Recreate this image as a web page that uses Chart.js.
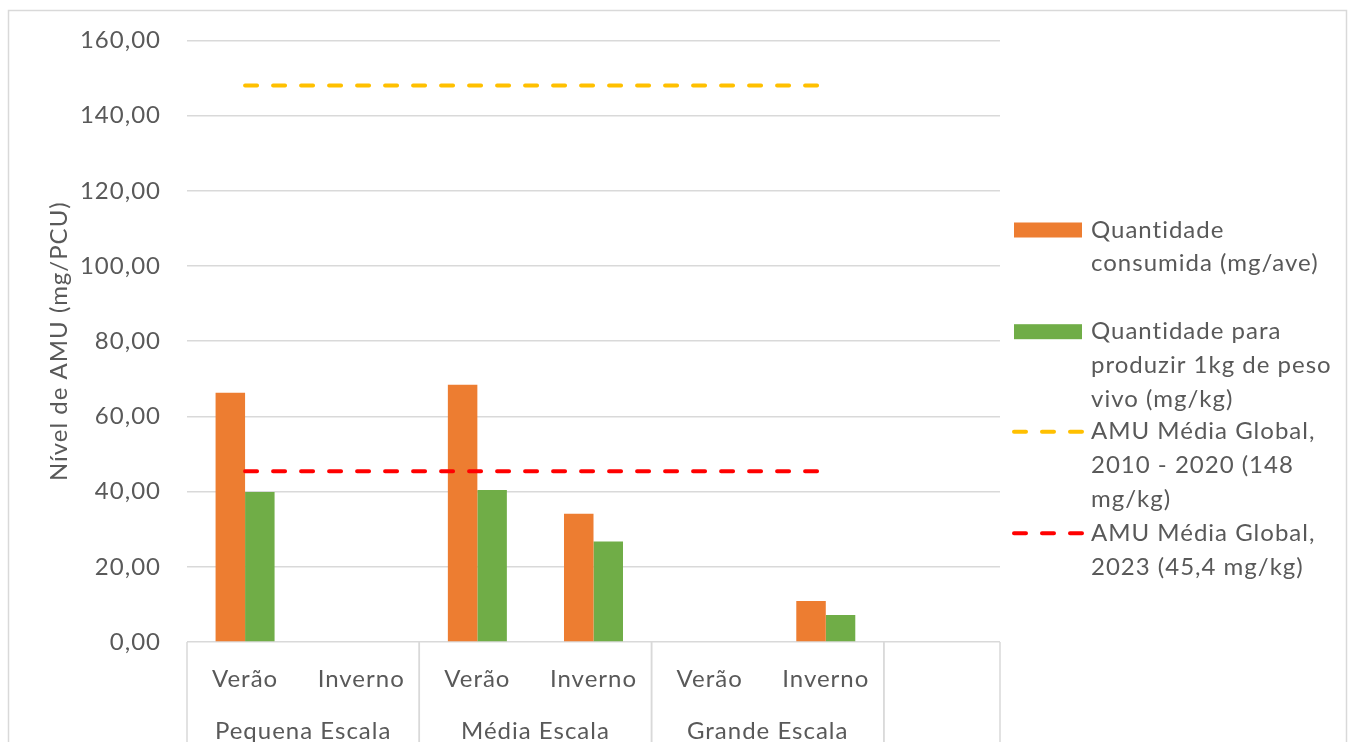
<!DOCTYPE html>
<html>
<head>
<meta charset="utf-8">
<script src="https://cdn.jsdelivr.net/npm/chart.js@4.4.1/dist/chart.umd.min.js"></script>
<style>
  html, body { margin: 0; padding: 0; background: #fff; }
  #wrap { width: 1354px; height: 742px; position: relative; }
</style>
</head>
<body>
<div id="wrap"><canvas id="chart" width="1354" height="742"></canvas></div>
<script>
// categories (last slot is empty in the original sheet)
const seasons = ['Verão', 'Inverno', 'Verão', 'Inverno', 'Verão', 'Inverno', ''];
const groups = ['Pequena Escala', 'Média Escala', 'Grande Escala', ''];
const groupSpan = [2, 2, 2, 1];

// series values
const consumida = [66.3, null, 68.4, 34.1, null, 10.9, null];
const porKg = [39.9, null, 40.4, 26.7, null, 7.2, null];
const media2010 = [148, 148, 148, 148, 148, 148];
const media2023 = [45.4, 45.4, 45.4, 45.4, 45.4, 45.4];

// y ticks
const yMin = 0;
const yMax = 160;
const yStep = 20;

// legend labels, wrapped like the original
const legendLines = [
    ['Quantidade', 'consumida (mg/ave)'],
    ['Quantidade para', 'produzir 1kg de peso', 'vivo (mg/kg)'],
    ['AMU Média Global,', '2010 - 2020 (148', 'mg/kg)'],
    ['AMU Média Global,', '2023 (45,4 mg/kg)']
];

const FONT = 'Lato, "Open Sans", sans-serif';
const TEXT = '#595959';
const GRID = '#d9d9d9';
const FSIZE = 24;

//a bit of letter spacing so Lato reads closer to the original's width (also drops the "ti" ligature)
const spacing = {
    id: 'spacing',
    beforeLayout(c) { c.ctx.letterSpacing = '1px'; },
    beforeDraw(c) { c.ctx.letterSpacing = '1px'; }
};

//outer frame of the chart
const frame = {
    id: 'frame',
    beforeDraw(c) {
        const ctx = c.ctx;
        ctx.save();
        ctx.strokeStyle = GRID;
        ctx.lineWidth = 1.5;
        ctx.strokeRect(8.5, 10.5, 1338, 800);
        ctx.restore();
    }
};

//second row of the x axis: group names and separators
const groupAxis = {
    id: 'groupAxis',
    afterDraw(c) {
        const ctx = c.ctx;
        const x = c.scales.x;
        const bottom = c.chartArea.bottom;
        const half = (x.getPixelForValue(1) - x.getPixelForValue(0)) / 2;
        ctx.save();
        ctx.strokeStyle = GRID;
        ctx.lineWidth = 1.5;
        ctx.fillStyle = TEXT;
        ctx.font = FSIZE + 'px ' + FONT;
        ctx.textAlign = 'center';
        ctx.textBaseline = 'middle';
        let idx = 0;
        groups.forEach((g, i) => {
            const start = x.getPixelForValue(idx) - half;
            const end = x.getPixelForValue(idx + groupSpan[i] - 1) + half;
            [start, end].forEach(px => {
                ctx.beginPath();
                ctx.moveTo(px, bottom);
                ctx.lineTo(px, c.height);
                ctx.stroke();
            });
            ctx.fillText(g, (start + end) / 2, bottom + 89);
            idx += groupSpan[i];
        });
        ctx.restore();
    }
};

//legend on the right, multi line labels
const sideLegend = {
    id: 'sideLegend',
    afterDraw(c) {
        const ctx = c.ctx;
        const tops = [230, 331.7, 431.7, 533.3];
        const lh = 33.7;
        ctx.save();
        ctx.font = FSIZE + 'px ' + FONT;
        ctx.textBaseline = 'middle';
        ctx.textAlign = 'left';
        c.data.datasets.forEach((ds, i) => {
            const y = tops[i];
            if (ds.type === 'line') {
                ctx.strokeStyle = ds.borderColor;
                ctx.lineWidth = ds.borderWidth;
                ctx.lineCap = 'round';
                ctx.setLineDash(ds.borderDash);
                ctx.beginPath();
                ctx.moveTo(1014, y);
                ctx.lineTo(1082, y);
                ctx.stroke();
                ctx.setLineDash([]);
            } else {
                ctx.fillStyle = ds.backgroundColor;
                ctx.fillRect(1014, y - 7.5, 68, 15);
            }
            ctx.fillStyle = TEXT;
            legendLines[i].forEach((t, k) => ctx.fillText(t, 1091, y + k * lh));
        });
        ctx.restore();
    }
};

const chart = new Chart(document.getElementById('chart'), {
    type: 'bar',
    data: {
        labels: seasons,
        datasets: [
            { type: 'bar', label: legendLines[0].join(' '), data: consumida, backgroundColor: '#ED7D31',
              categoryPercentage: 0.508, barPercentage: 1, order: 1 },
            { type: 'bar', label: legendLines[1].join(' '), data: porKg, backgroundColor: '#70AD47',
              categoryPercentage: 0.508, barPercentage: 1, order: 1 },
            { type: 'line', label: legendLines[2].join(' '), data: media2010, borderColor: '#FFC000',
              borderWidth: 4, borderDash: [12, 16], borderCapStyle: 'round', pointRadius: 0, fill: false, order: 0 },
            { type: 'line', label: legendLines[3].join(' '), data: media2023, borderColor: '#FF0000',
              borderWidth: 4, borderDash: [12, 16], borderCapStyle: 'round', pointRadius: 0, fill: false, order: 0 }
        ]
    },
    options: {
        responsive: false,
        animation: false,
        layout: { padding: { top: 40, right: 354, left: 0, bottom: 0 } },
        plugins: {
            legend: { display: false },
            tooltip: { enabled: false }
        },
        scales: {
            x: {
                grid: { display: false },
                border: { display: false },
                ticks: { color: TEXT, font: { family: FONT, size: FSIZE }, padding: 15, maxRotation: 0, autoSkip: false },
                afterFit: s => { s.height = 100; }
            },
            y: {
                min: yMin,
                max: yMax,
                ticks: {
                    stepSize: yStep,
                    color: TEXT,
                    font: { family: FONT, size: FSIZE },
                    padding: 26,
                    callback: v => v.toFixed(2).replace('.', ',')
                },
                grid: { color: GRID, lineWidth: 1.5, drawTicks: false },
                border: { display: false },
                title: {
                    display: true,
                    text: 'Nível de AMU (mg/PCU)',
                    color: TEXT,
                    font: { family: FONT, size: FSIZE },
                    padding: { top: 45, bottom: 0 }
                },
                afterFit: s => { s.width = 187; }
            }
        }
    },
    plugins: [spacing, frame, groupAxis, sideLegend]
});
</script>
</body>
</html>
